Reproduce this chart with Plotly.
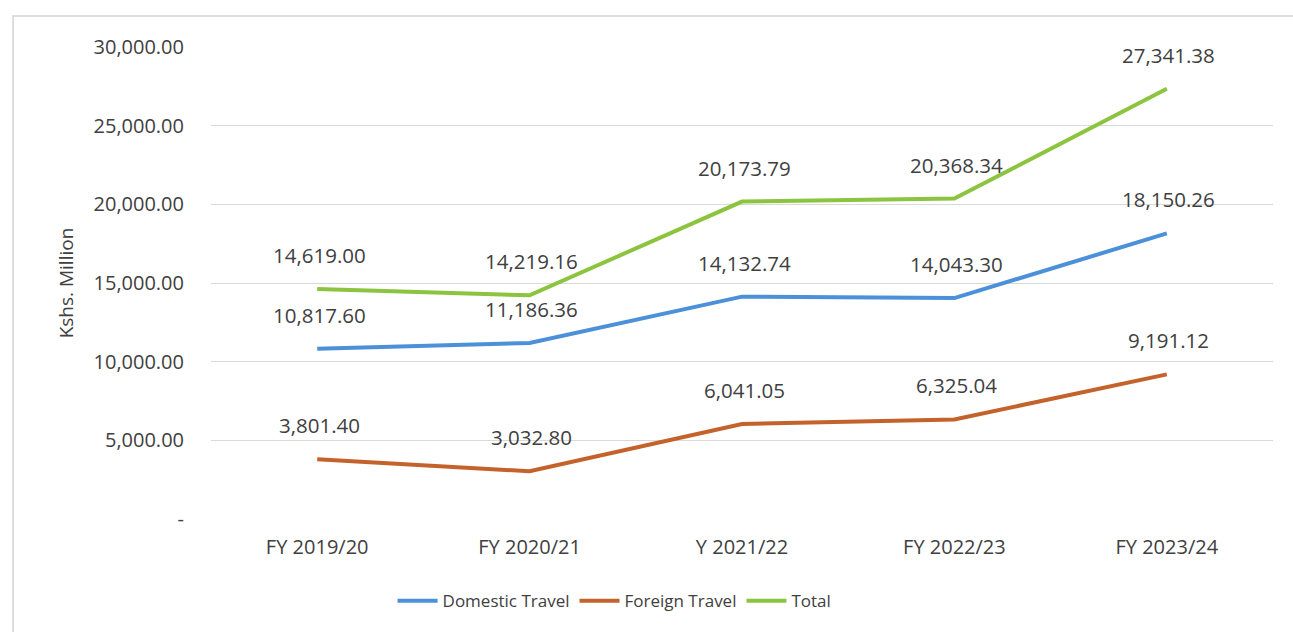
import plotly.graph_objects as go

# Travel expenditure by financial year (Kshs. Million)
years = ["FY 2019/20", "FY 2020/21", "Y 2021/22", "FY 2022/23", "FY 2023/24"]
domestic = [10817.60, 11186.36, 14132.74, 14043.30, 18150.26]
foreign = [3801.40, 3032.80, 6041.05, 6325.04, 9191.12]
total = [14619.00, 14219.16, 20173.79, 20368.34, 27341.38]

y_ticks = [0, 5000, 10000, 15000, 20000, 25000, 30000]
y_tick_text = ["-"] + [f"{v:,.2f}" for v in y_ticks[1:]]

FONT = "Open Sans"
TEXT = "#404040"

series = [
    ("Domestic Travel", domestic, "#4b90d8"),
    ("Foreign Travel", foreign, "#c4622b"),
    ("Total", total, "#8cc43f"),
]

fig = go.Figure()
annotations = []

for name, values, color in series:
    fig.add_trace(go.Scatter(
        x=years, y=values, name=name, mode="lines",
        line=dict(color=color, width=4), hoverinfo="skip",
    ))
    # value label above each point
    for cat, v in zip(years, values):
        annotations.append(dict(
            x=cat, y=v, xref="x", yref="y", text=f"{v:,.2f}",
            showarrow=False, yshift=34, xshift=2,
            font=dict(family=FONT, size=20.5, color=TEXT),
        ))

fig.update_layout(
    width=1293, height=632,
    margin=dict(l=211, r=20, t=47, b=113),
    paper_bgcolor="white", plot_bgcolor="white",
    font=dict(family=FONT, color=TEXT),
    showlegend=True,
    legend=dict(
        orientation="h", x=0.38, xanchor="center", y=-0.174, yanchor="middle",
        font=dict(family=FONT, size=17, color=TEXT),
        itemwidth=40, tracegroupgap=0,
    ),
    annotations=annotations,
    shapes=[dict(
        type="rect", xref="paper", yref="paper",
        x0=-0.1864, x1=1.2, y0=-0.3, y1=1.0657,
        line=dict(color="#d4d4d4", width=1.5), fillcolor="rgba(0,0,0,0)",
        layer="below",
    )],
)

fig.update_xaxes(
    type="category", range=[-0.5, 4.5], showgrid=False, showline=False,
    ticks="", tickfont=dict(family=FONT, size=20, color=TEXT),
    ticklabelstandoff=14,
)
fig.update_yaxes(
    range=[0, 30000], tickvals=y_ticks, ticktext=y_tick_text,
    showgrid=True, gridcolor="#d9d9d9", gridwidth=1,
    zeroline=False, showline=False, ticks="",
    tickfont=dict(family=FONT, size=20, color=TEXT),
    ticklabelstandoff=26,
    title=dict(text="Kshs. Million", standoff=14,
               font=dict(family=FONT, size=19, color=TEXT)),
)

fig.write_html("out.html")
